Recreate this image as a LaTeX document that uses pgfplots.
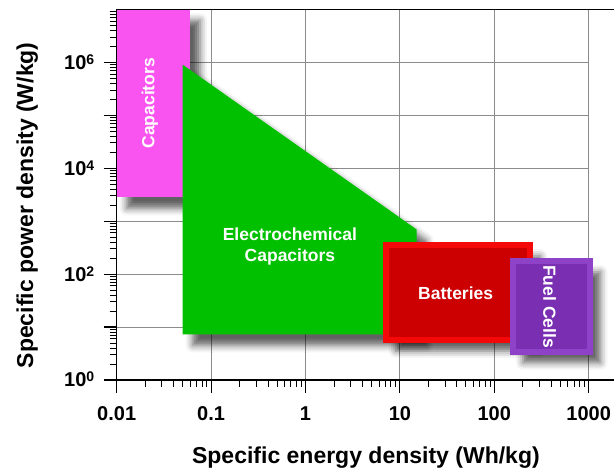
\documentclass[border=0pt]{standalone}
\usepackage{fontspec}
\setmainfont{Liberation Sans}
\usepackage{pgfplots}
\pgfplotsset{compat=1.18}
\usetikzlibrary{shadows.blur}

\definecolor{capfill}{RGB}{250,84,240}
\definecolor{ecfill}{RGB}{0,192,0}
\definecolor{batin}{RGB}{204,0,0}
\definecolor{batedge}{RGB}{245,8,8}
\definecolor{fcin}{RGB}{122,46,178}
\definecolor{fcedge}{RGB}{142,66,200}
\definecolor{gridgray}{RGB}{140,140,140}

\newcommand{\ytl}[1]{10\raisebox{5pt}{\fontsize{14}{14}\selectfont #1}}

\tikzset{
  boxshadow/.style={blur shadow={shadow xshift=10pt, shadow yshift=-11pt,
      shadow blur radius=7pt, shadow opacity=62}},
}

\begin{document}
\begin{tikzpicture}
\begin{axis}[
  scale only axis, width=472pt, height=370.7pt,
  xmode=log, ymode=log,
  xmin=0.01, xmax=1000, ymin=1, ymax=1e7,
  clip=false,
  axis x line=bottom, axis y line=left,
  axis line style={-, line width=1.2pt, black},
  tick align=outside,
  major tick length=13pt, minor tick length=7pt,
  every major tick/.style={black, line width=1.1pt},
  every minor tick/.style={black, line width=0.8pt},
  xtick={0.01,0.1,1,10,100,1000},
  xticklabels={0.01,0.1,1,10,100,1000},
  minor xtick={0.02,0.03,0.04,0.05,0.06,0.07,0.08,0.09,
               0.2,0.3,0.4,0.5,0.6,0.7,0.8,0.9,
               2,3,4,5,6,7,8,9,20,30,40,50,60,70,80,90,
               200,300,400,500,600,700,800,900},
  ytick={1,10,100,1000,1e4,1e5,1e6},
  yticklabels={\ytl{0},,\ytl{2},,\ytl{4},,\ytl{6}},
  minor ytick={2,3,4,5,6,7,8,9,20,30,40,50,60,70,80,90,
               200,300,400,500,600,700,800,900,
               2e3,3e3,4e3,5e3,6e3,7e3,8e3,9e3,
               2e4,3e4,4e4,5e4,6e4,7e4,8e4,9e4,
               2e5,3e5,4e5,5e5,6e5,7e5,8e5,9e5,
               2e6,3e6,4e6,5e6,6e6,7e6,8e6,9e6},
  xmajorgrids, ymajorgrids,
  major grid style={gridgray, line width=0.8pt},
  xticklabel style={font=\fontsize{20}{24}\selectfont\bfseries, anchor=base, yshift=-28pt},
  yticklabel style={font=\fontsize{20}{24}\selectfont\bfseries, anchor=base east, yshift=-7pt, xshift=-6pt},
  xlabel={Specific energy density (Wh/kg)},
  ylabel={Specific power density (W/kg)},
  xlabel style={font=\fontsize{23}{26}\selectfont\bfseries,
    at={(axis description cs:0.528,-0.224)}, anchor=base},
  ylabel style={font=\fontsize{23}{26}\selectfont\bfseries,
    at={(axis description cs:-0.177,0.471)}, anchor=base, rotate=0},
]

% Capacitors
\addplot[draw=none, fill=capfill, boxshadow]
  coordinates {(0.01,2800) (0.06,2800) (0.06,1e7) (0.01,1e7)} -- cycle;

% Electrochemical capacitors
\addplot[draw=none, fill=ecfill, boxshadow]
  coordinates {(0.05,7.3) (15,7.3) (15,700) (0.05,9e5)} -- cycle;

% Batteries (the wide bright stroke gives the bevelled rim)
\addplot[fill=batin, draw=batedge, line width=6pt, line join=miter, boxshadow]
  coordinates {(7.1,5.7) (241,5.7) (241,351) (7.1,351)} -- cycle;

% Fuel cells
\addplot[fill=fcin, draw=fcedge, line width=6pt, line join=miter, boxshadow]
  coordinates {(158,3.42) (1041,3.42) (1041,176) (158,176)} -- cycle;

\node[rotate=90, text=white, font=\fontsize{17.5}{21}\selectfont\bfseries]
  at (axis cs:0.0225,1.68e5) {Capacitors};
\node[text=white, align=center, font=\fontsize{17.5}{21}\selectfont\bfseries]
  at (axis cs:0.684,337) {Electrochemical\\Capacitors};
\node[text=white, font=\fontsize{17.5}{21}\selectfont\bfseries]
  at (axis cs:39,44) {Batteries};
\node[rotate=-90, text=white, font=\fontsize{17.5}{21}\selectfont\bfseries]
  at (axis cs:386,24.4) {Fuel Cells};

% top frame line and the run-out of the energy axis
\draw[line width=1.2pt] (rel axis cs:0,1) -- (rel axis cs:1.0536,1);
\draw[line width=1.2pt] (rel axis cs:1,0) -- (rel axis cs:1.0536,0);
\end{axis}
\pgfresetboundingbox
\useasboundingbox (-116.7pt,-90pt) rectangle (497.3pt,380pt);
\end{tikzpicture}
\end{document}
